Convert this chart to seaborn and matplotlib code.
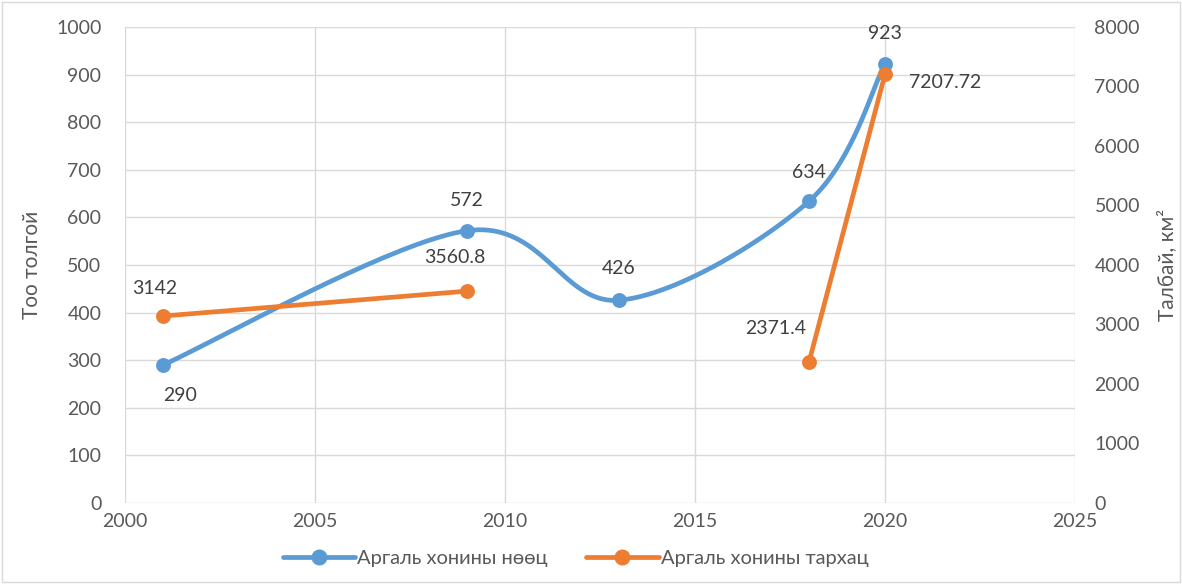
import matplotlib
matplotlib.use("Agg")
import matplotlib.pyplot as plt
import numpy as np
import pandas as pd
import seaborn as sns
from matplotlib.lines import Line2D

years_count = [2001, 2009, 2013, 2018, 2020]
head_count = [290, 572, 426, 634, 923]

years_area = [2001, 2009, 2013, 2018, 2020]
area_km2 = [3142, 3560.8, np.nan, 2371.4, 7207.72]

count_label = "Аргаль хонины нөөц"
area_label = "Аргаль хонины тархац"

BLUE = "#5B9BD5"
ORANGE = "#ED7D31"
TEXT = "#595959"
GRID = "#D9D9D9"
FS = 14


def smooth_curve(x, y, steps=40):
    # Excel-style smoothed line: cubic Bezier with Catmull-Rom control points
    x = np.asarray(x, float)
    y = np.asarray(y, float)
    pts = np.column_stack([x, y])
    out = []
    for i in range(len(pts) - 1):
        p0 = pts[max(i - 1, 0)]
        p1 = pts[i]
        p2 = pts[i + 1]
        p3 = pts[min(i + 2, len(pts) - 1)]
        c1 = p1 + (p2 - p0) / 6
        c2 = p2 - (p3 - p1) / 6
        t = np.linspace(0, 1, steps)[:, None]
        seg = ((1 - t) ** 3) * p1 + 3 * ((1 - t) ** 2) * t * c1 + 3 * (1 - t) * t ** 2 * c2 + t ** 3 * p2
        out.append(seg if i == 0 else seg[1:])
    out = np.vstack(out)
    return out[:, 0], out[:, 1]


sns.set_style("white")
plt.rcParams["font.family"] = ["Lato", "DejaVu Sans"]

fig = plt.figure(figsize=(11.82, 5.84), dpi=100)
ax = fig.add_axes([0.1058, 0.1387, 0.8037, 0.8151])
ax2 = ax.twinx()

# blue series, smoothed, left axis
sx, sy = smooth_curve(years_count, head_count)
ax.plot(sx, sy, color=BLUE, lw=3.4, solid_capstyle="round", zorder=3)
sns.scatterplot(x=years_count, y=head_count, ax=ax, color=BLUE, s=115,
                edgecolor=BLUE, linewidth=0, zorder=4, legend=False)

# orange series, straight, right axis (gap where no value)
ax2.plot(years_area, area_km2, color=ORANGE, lw=3.4, solid_capstyle="round", zorder=3)
df_area = pd.DataFrame({"year": years_area, "area": area_km2}).dropna()
sns.scatterplot(data=df_area, x="year", y="area", ax=ax2, color=ORANGE, s=115,
                edgecolor=ORANGE, linewidth=0, zorder=4, legend=False)

ax.set_xlim(2000, 2025)
ax.set_ylim(0, 1000)
ax2.set_ylim(0, 8000)
ax.set_xticks(range(2000, 2026, 5))
ax.set_yticks(range(0, 1001, 100))
ax2.set_yticks(range(0, 8001, 1000))

ax.grid(True, color=GRID, lw=1)
ax.set_axisbelow(True)
for a in (ax, ax2):
    for s in a.spines.values():
        s.set_visible(False)
    a.tick_params(length=0, labelsize=FS, colors=TEXT)
ax.tick_params(axis="y", pad=17)
ax2.tick_params(axis="y", pad=14)
ax.tick_params(axis="x", pad=7)

ax.set_ylabel("Тоо толгой", fontsize=15, color=TEXT, labelpad=10)
ax2.set_ylabel("Талбай, км²", fontsize=15, color=TEXT, labelpad=12)

# data labels
count_offsets = [(12, -22), (0, 22), (0, 23), (0, 21), (0, 22)]
for xv, yv, off in zip(years_count, head_count, count_offsets):
    ax.annotate(f"{yv:g}", (xv, yv), xytext=off, textcoords="offset points",
                ha="center", va="center", fontsize=FS, color="#404040")
area_offsets = [(-6, 20), (-9, 24), None, (-24, 24), (43, -6)]
for xv, yv, off in zip(years_area, area_km2, area_offsets):
    if off is None or np.isnan(yv):
        continue
    ax2.annotate(f"{yv:g}", (xv, yv), xytext=off, textcoords="offset points",
                 ha="center", va="center", fontsize=FS, color="#404040")

handles = [
    Line2D([], [], color=BLUE, lw=3.4, marker="o", markersize=10.5),
    Line2D([], [], color=ORANGE, lw=3.4, marker="o", markersize=10.5),
]
leg = fig.legend(handles, [count_label, area_label], loc="center", ncol=2,
                 bbox_to_anchor=(0.487, 0.044), frameon=False, fontsize=14.5,
                 handlelength=3.6, handletextpad=0.1, columnspacing=1.9)
for t in leg.get_texts():
    t.set_color(TEXT)

# light border around the chart area
fig.patches.append(plt.Rectangle((0.002, 0.003), 0.996, 0.994, transform=fig.transFigure,
                                 fill=False, edgecolor=GRID, lw=1))

fig.savefig("out.png", dpi=100)
